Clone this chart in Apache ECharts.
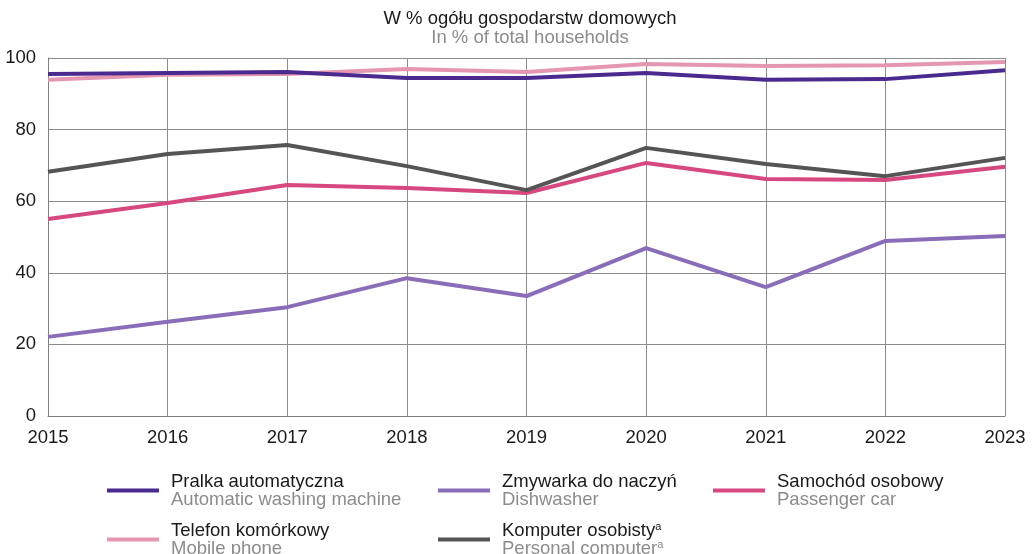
<!DOCTYPE html>
<html>
<head>
<meta charset="utf-8">
<script src="https://cdn.jsdelivr.net/npm/echarts@6/dist/echarts.min.js"></script>
<style>
  html, body { margin: 0; padding: 0; background: #fff; }
  #main { width: 1034px; height: 554px; }
</style>
</head>
<body>
<div id="main"></div>
<script>
var years = ['2015', '2016', '2017', '2018', '2019', '2020', '2021', '2022', '2023'];

var pralka = [95.5, 95.8, 96.1, 94.4, 94.4, 95.8, 93.9, 94.1, 96.6];
var zmywarka = [22.1, 26.3, 30.4, 38.5, 33.5, 46.9, 36.0, 48.9, 50.3];
var samochod = [55.0, 59.5, 64.5, 63.7, 62.3, 70.7, 66.2, 65.9, 69.6];
var telefon = [93.9, 95.3, 95.5, 96.9, 96.1, 98.3, 97.8, 98.0, 98.9];
var komputer = [68.2, 73.2, 75.7, 69.8, 63.1, 74.9, 70.4, 67.0, 72.1];

var namesPl = ['Pralka automatyczna', 'Zmywarka do naczyń', 'Samochód osobowy', 'Telefon komórkowy', 'Komputer osobisty'];
var namesEn = ['Automatic washing machine', 'Dishwasher', 'Passenger car', 'Mobile phone', 'Personal computer'];
var sup = [false, false, false, false, true];
var colors = ['#4a2a8e', '#8a6db8', '#d6487f', '#e596b0', '#555555'];
var values = [pralka, zmywarka, samochod, telefon, komputer];

var font = '"Liberation Sans", Arial, sans-serif';
var fs = 18.5;

var myChart = echarts.init(document.getElementById('main'));

var legendPos = [[107, 472], [438, 472], [713, 472], [107, 521], [438, 521]];

var series = values.map(function (v, i) {
  return {
    name: namesPl[i],
    type: 'line',
    data: v,
    symbol: 'none',
    lineStyle: { width: 4, color: colors[i] },
    itemStyle: { color: colors[i] },
    z: i === 0 ? 5 : 3
  };
});

var legends = namesPl.map(function (n, i) {
  return {
    data: [n],
    left: legendPos[i][0],
    top: legendPos[i][1],
    padding: 0,
    icon: 'rect',
    itemWidth: 52,
    itemHeight: 4,
    itemGap: 0,
    selectedMode: false,
    formatter: function () {
      var s = sup[i] ? '{sup|a}' : '';
      return '{pl|' + namesPl[i] + '}' + s + '\n{en|' + namesEn[i] + '}' + s.replace('sup', 'supg');
    },
    textStyle: {
      fontFamily: font,
      padding: [0, 0, 0, 7],
      rich: {
        pl: { fontSize: fs, color: '#1a1a1a', fontFamily: font, lineHeight: 18 },
        en: { fontSize: fs, color: '#8c8c8c', fontFamily: font, lineHeight: 18 },
        sup: { fontSize: 11, color: '#1a1a1a', fontFamily: font, verticalAlign: 'top', lineHeight: 18, padding: [0, 0, 8, 0] },
        supg: { fontSize: 11, color: '#8c8c8c', fontFamily: font, verticalAlign: 'top', lineHeight: 18, padding: [0, 0, 8, 0] }
      }
    }
  };
});

var options = {
  animation: false,
  title: {
    text: 'W % ogółu gospodarstw domowych',
    subtext: 'In % of total households',
    left: 525,
    textAlign: 'center',
    top: 5,
    itemGap: 0,
    textStyle: { fontFamily: font, fontSize: fs, fontWeight: 'normal', color: '#1a1a1a', lineHeight: 17 },
    subtextStyle: { fontFamily: font, fontSize: fs, color: '#8c8c8c', lineHeight: 17 }
  },
  legend: legends,
  grid: { left: 48, right: 29, top: 58, bottom: 138, containLabel: false },
  xAxis: {
    type: 'category',
    data: years,
    boundaryGap: false,
    axisLine: { show: true, lineStyle: { color: '#808080', width: 1 } },
    axisTick: { show: false },
    axisLabel: { fontFamily: font, fontSize: fs, color: '#1a1a1a', margin: 12 },
    splitLine: { show: true, lineStyle: { color: '#8c8c8c', width: 1 } }
  },
  yAxis: {
    type: 'value',
    min: 0,
    max: 100,
    interval: 20,
    axisLine: { show: true, lineStyle: { color: '#808080', width: 1 } },
    axisTick: { show: false },
    axisLabel: { fontFamily: font, fontSize: fs, color: '#1a1a1a', margin: 12 },
    splitLine: { show: true, lineStyle: { color: '#8c8c8c', width: 1 } }
  },
  series: series
};

myChart.setOption(options);
</script>
</body>
</html>
